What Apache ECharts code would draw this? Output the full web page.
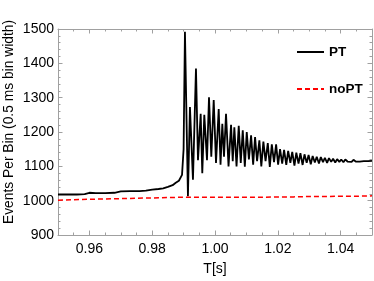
<!DOCTYPE html>
<html>
<head>
<meta charset="utf-8">
<script src="https://cdn.jsdelivr.net/npm/echarts@6/dist/echarts.min.js"></script>
<style>
html,body{margin:0;padding:0;background:#fff;}
#c{width:374px;height:281px;}
</style>
</head>
<body>
<div id="c"></div>
<script>
// ---- data ----
const ptTime = [
0.950,0.953,0.956,0.9585,0.960,0.962,0.965,0.968,0.970,0.973,0.976,0.978,0.980,0.982,0.9835,0.984,0.985,0.9865,0.9875,0.9885,0.989,0.9895,0.9900,
0.99043,0.99138,0.99202,0.99298,0.99394,0.99458,0.99544,0.99595,0.99659,0.99745,0.99809,0.99882,0.99959,
1.00032,1.00118,1.00176,1.00233,1.00287,1.00351,1.00431,1.00511,1.00565,1.00616,1.00686,1.00756,1.00820,1.00884,1.00950,
1.01011,1.01080,1.01149,1.01215,1.01276,1.01340,1.01413,1.01475,1.01541,1.01610,1.01681,1.01745,1.01809,1.01880,1.01946,
1.02010,1.02072,1.02140,1.02200,1.02270,1.02330,1.02400,1.02460,1.02530,1.02590,1.02660,1.02720,1.02790,1.02850,1.02920,1.02980,
1.03050,1.03110,1.03180,1.03240,1.03310,1.03370,1.03440,1.03500,1.03570,1.03630,1.03700,1.03760,1.03830,1.03890,1.03960,
1.04020,1.04090,1.04150,1.04220,1.04280,1.04350,1.04410,1.04480,1.04540,1.04610,1.04670,1.04740,1.04800,1.04870,1.04930,1.05000
];
const ptValue = [
1018,1018,1018,1019,1023,1022,1022,1023,1027,1028,1028,1029,1032,1034,1036,1041,1040,1045,1052,1058,1062,1075,1150,
1492,1013,1273,1061,1385,1118,1253,1080,1250,1118,1301,1128,1293,
1110,1267,1105,1224,1128,1253,1100,1221,1115,1214,1100,1218,1110,1205,1099,
1200,1120,1190,1105,1185,1115,1176,1100,1172,1115,1168,1098,1164,1112,1164,
1105,1150,1108,1148,1104,1145,1110,1142,1102,1140,1108,1138,1104,1135,1110,1133,
1106,1130,1111,1128,1108,1127,1112,1125,1110,1124,1113,1122,1111,1121,1113,
1120,1112,1120,1114,1119,1113,1119,1114,1118,1114,1118,1115,1118,1115,1117,1116
];
const noptTime = [0.950,0.955,0.960,0.965,0.970,0.975,0.980,0.985,0.990,0.995,1.000,1.005,1.010,1.015,1.020,1.025,1.030,1.035,1.040,1.045,1.050];
const noptValue = [1001,1003,1004,1005,1006,1007,1008,1009,1010,1010,1010,1010,1010,1010,1011,1011,1012,1012,1013,1013,1014];
const xMajorTicks = [0.96,0.98,1.00,1.02,1.04];
const seriesNames = ['PT','noPT'];
const xTitle = 'T[s]';
const yTitle = 'Events Per Bin (0.5 ms bin width)';

const ptData = ptTime.map((t,i)=>[t, ptValue[i]]);
const noptData = noptTime.map((t,i)=>[t, noptValue[i]]);

const gray = '#a0a0a0';
const font = 'Liberation Sans, Arial, sans-serif';

function xAxisMinor(pos){
  return {type:'value', position:pos, min:0.95, max:1.05, interval:0.005,
    axisLine:{show:true, onZero:false, lineStyle:{color:gray, width:1}},
    axisTick:{show:true, inside:true, length:2.5, lineStyle:{color:gray}},
    axisLabel:{show:false}, splitLine:{show:false}};
}
function xAxisMajor(pos, labels){
  return {type:'value', position:pos, min:0.95, max:1.05,
    axisLine:{show:false, onZero:false},
    axisTick:{show:true, inside:true, length:4.5, customValues:xMajorTicks, lineStyle:{color:gray}},
    axisLabel:{show:labels, customValues:xMajorTicks, margin:7, color:'#000', fontSize:14, fontFamily:font,
      formatter:v=>v.toFixed(2)},
    splitLine:{show:false},
    name: labels ? xTitle : '', nameLocation:'middle', nameGap:27,
    nameTextStyle:{color:'#000', fontSize:14, fontFamily:font}};
}
function yAxis(pos, labels){
  return {type:'value', position:pos, min:900, max:1500, interval:100,
    axisLine:{show:true, onZero:false, lineStyle:{color:gray, width:1}},
    axisTick:{show:true, inside:true, length:4.5, lineStyle:{color:gray}},
    minorTick:{show:true, splitNumber:5, length:2.5, lineStyle:{color:gray}},
    axisLabel:{show:labels, margin:4, color:'#000', fontSize:14, fontFamily:font, formatter:v=>String(v)},
    splitLine:{show:false}};
}

const chart = echarts.init(document.getElementById('c'), null, {renderer:'canvas'});
chart.setOption({
  animation:false,
  backgroundColor:'#fff',
  grid:{left:58, right:2, top:29, bottom:43, containLabel:false},
  xAxis:[xAxisMinor('bottom'), xAxisMajor('bottom', true), xAxisMinor('top'), xAxisMajor('top', false)],
  yAxis:[yAxis('left', true), yAxis('right', false)],
  legend:{orient:'vertical', left:291, top:40, itemWidth:27, itemHeight:14, itemGap:23,
    data:seriesNames,
    itemStyle:{color:'transparent', borderColor:'transparent', borderWidth:0},
    textStyle:{color:'#000', fontSize:13.5, fontWeight:'bold', fontFamily:font}},
  graphic:[{type:'text', x:9.5, y:122, rotation:Math.PI/2,
    style:{text:yTitle, fill:'#000', fontSize:13.8, fontFamily:font, align:'center', verticalAlign:'middle'}}],
  series:[
    {name:seriesNames[0], type:'line', xAxisIndex:0, yAxisIndex:0, data:ptData, showSymbol:false, symbol:'none',
      lineStyle:{color:'#000', width:1.8}, itemStyle:{color:'#000'}},
    {name:seriesNames[1], type:'line', xAxisIndex:0, yAxisIndex:0, data:noptData, showSymbol:false, symbol:'none',
      lineStyle:{color:'#ff0000', width:1.5, type:[5,3]}, itemStyle:{color:'#ff0000'}}
  ]
});
</script>
</body>
</html>
